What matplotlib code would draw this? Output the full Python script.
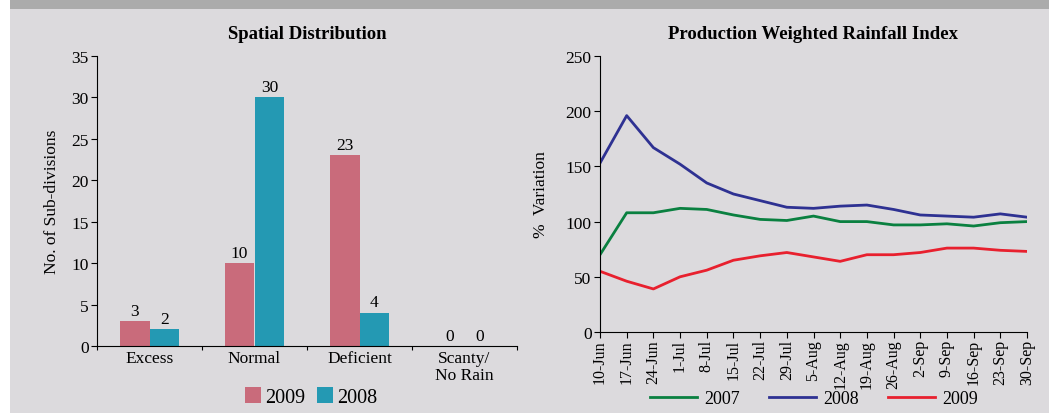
import numpy as np
import matplotlib.pyplot as plt
from matplotlib.patches import Rectangle

plt.rcParams['font.family'] = ['Liberation Serif', 'DejaVu Serif']

# ── Data ─────────────────────────────────────────────────────────────
categories = ['Excess', 'Normal', 'Deficient', 'Scanty/\nNo Rain']
bars_2009 = [3, 10, 23, 0]
bars_2008 = [2, 30, 4, 0]

weeks = ['10-Jun', '17-Jun', '24-Jun', '1-Jul', '8-Jul', '15-Jul', '22-Jul',
         '29-Jul', '5-Aug', '12-Aug', '19-Aug', '26-Aug', '2-Sep', '9-Sep',
         '16-Sep', '23-Sep', '30-Sep']
pwri_2007 = [70, 108, 108, 112, 111, 106, 102, 101, 105, 100, 100, 97, 97, 98, 96, 99, 100]
pwri_2008 = [153, 196, 167, 152, 135, 125, 119, 113, 112, 114, 115, 111, 106, 105, 104, 107, 104]
pwri_2009 = [55, 46, 39, 50, 56, 65, 69, 72, 68, 64, 70, 70, 72, 76, 76, 74, 73]

bg = '#dcdadd'
c09, c08 = '#c96b7b', '#2499b3'

fig = plt.figure(figsize=(10.49, 4.14), dpi=100)
fig.patch.set_facecolor('white')
# panel background + top band
fig.patches.append(Rectangle((10 / 1049, 0), 1, 1, transform=fig.transFigure,
                             facecolor=bg, edgecolor='none', zorder=-10))
fig.patches.append(Rectangle((10 / 1049, 1 - 10 / 414), 1, 10 / 414,
                             transform=fig.transFigure,
                             facecolor='#ababab', edgecolor='none', zorder=-9))

# ── Left: Spatial Distribution ───────────────────────────────────────
ax1 = fig.add_axes([97 / 1049, 1 - 347 / 414, 420 / 1049, 290 / 414])
ax1.set_facecolor('none')
x = np.arange(len(categories))
w = 0.285
b1 = ax1.bar(x - w / 2, bars_2009, w, color=c09, label='2009')
b2 = ax1.bar(x + w / 2, bars_2008, w, color=c08, label='2008')
for bars in (b1, b2):
    for r in bars:
        ax1.text(r.get_x() + r.get_width() / 2, r.get_height() + 0.3,
                 f'{int(r.get_height())}', ha='center', va='bottom', fontsize=12.5)
ax1.set_xlim(-0.5, 3.5)
ax1.set_ylim(0, 35)
ax1.set_yticks(range(0, 36, 5))
ax1.set_xticks(np.arange(-0.5, 4, 1))
ax1.set_xticklabels([])
ax1.set_xticks(x, minor=True)
ax1.set_xticklabels(categories, minor=True, fontsize=12.5, linespacing=1.1)
ax1.tick_params(axis='x', which='minor', length=0, pad=3)
ax1.tick_params(axis='x', which='major', length=3)
ax1.tick_params(axis='y', labelsize=12.5, length=4, pad=2)
for s in ['top', 'right']:
    ax1.spines[s].set_visible(False)
ax1.set_ylabel('No. of Sub-divisions', fontsize=12.5, labelpad=8)
ax1.set_title('Spatial Distribution', fontsize=13.5, fontweight='bold', pad=13)
h, l = ax1.get_legend_handles_labels()
fig.legend(h, l, loc='center', bbox_to_anchor=(311 / 1049, 1 - 398 / 414), ncol=2,
           frameon=False, fontsize=14.5, handlelength=0.8, handleheight=0.8,
           handletextpad=0.2, columnspacing=0.6, borderpad=0)

# ── Right: Production Weighted Rainfall Index ────────────────────────
ax2 = fig.add_axes([600 / 1049, 1 - 333 / 414, 427 / 1049, 276 / 414])
ax2.set_facecolor('none')
xi = np.arange(len(weeks))
ax2.plot(xi, pwri_2007, color='#0a8040', lw=2, label='2007')
ax2.plot(xi, pwri_2008, color='#2e3192', lw=2, label='2008')
ax2.plot(xi, pwri_2009, color='#e8202e', lw=2, label='2009')
ax2.set_xlim(0, len(weeks) - 1)
ax2.set_ylim(0, 250)
ax2.set_yticks(range(0, 251, 50))
ax2.set_xticks(xi)
ax2.set_xticklabels(weeks, rotation=90, fontsize=11.5)
ax2.tick_params(axis='x', length=4, pad=1)
ax2.tick_params(axis='y', labelsize=12.5, length=4, pad=2)
for s in ['top', 'right']:
    ax2.spines[s].set_visible(False)
ax2.set_ylabel('%  Variation', fontsize=12.5, labelpad=12)
ax2.set_title('Production Weighted Rainfall Index', fontsize=13.5, fontweight='bold', pad=13)
h, l = ax2.get_legend_handles_labels()
fig.legend(h, l, loc='center', bbox_to_anchor=(814 / 1049, 1 - 400 / 414), ncol=3,
           frameon=False, fontsize=13, handlelength=2.6, handletextpad=0.4,
           columnspacing=1.6, borderpad=0)

fig.savefig('out.png', dpi=100, facecolor=fig.get_facecolor())
